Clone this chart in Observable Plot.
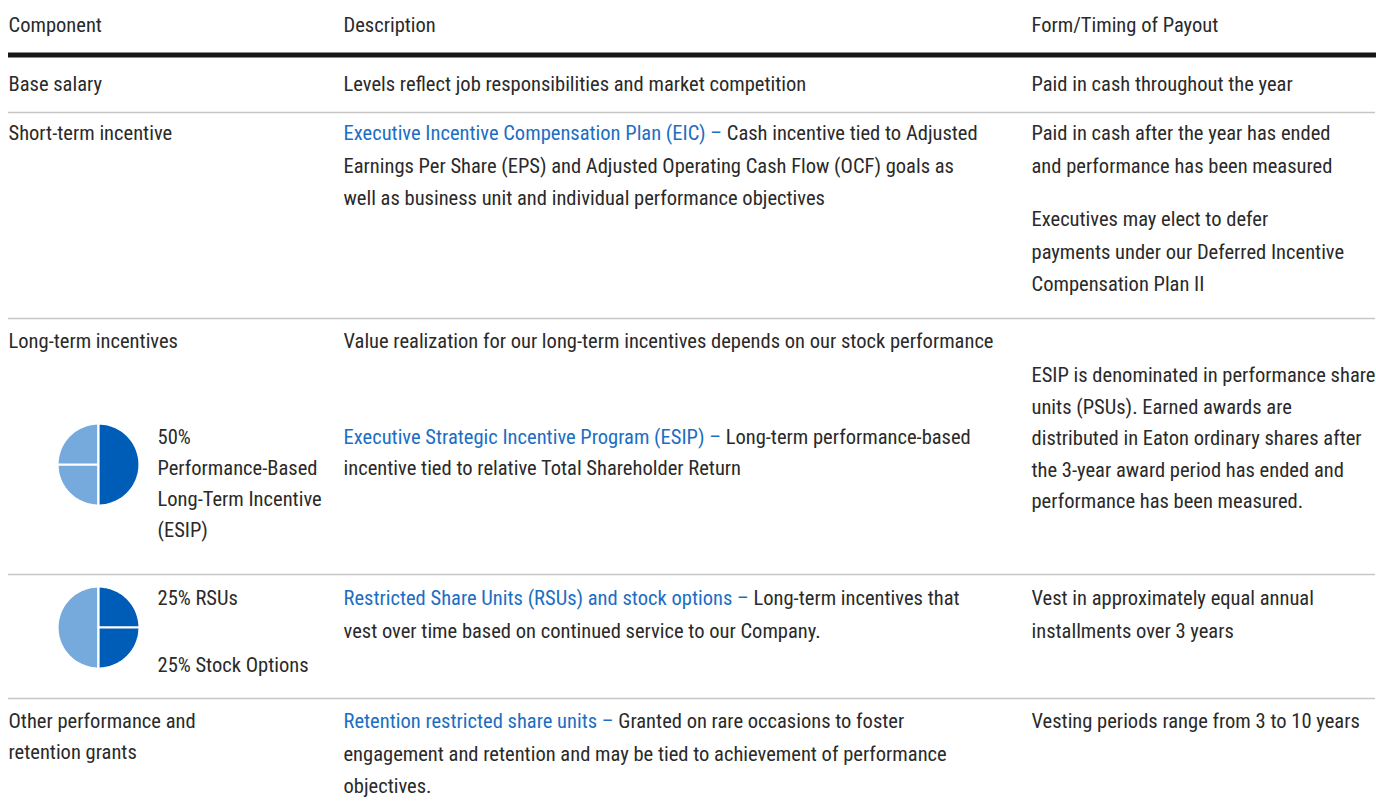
<!DOCTYPE html>
<html><head><meta charset="utf-8">
<script src="https://cdn.jsdelivr.net/npm/d3@7"></script>
<script src="https://cdn.jsdelivr.net/npm/@observablehq/plot@0.6"></script>
<style>html,body{margin:0;padding:0;background:#fff;} svg{display:block} svg text{font-stretch:semi-condensed}</style>
</head><body><div id="chart"></div>
<script>
// ---------- data ----------
const headers = ["Component", "Description", "Form/Timing of Payout"];
const components = ["Base salary", "Short-term incentive", "Long-term incentives", "Other performance and\nretention grants"];
const descLeads = ["", "Executive Incentive Compensation Plan (EIC) –", "", "Executive Strategic Incentive Program (ESIP) –", "Restricted Share Units (RSUs) and stock options –", "Retention restricted share units –"];
const descBodies = [
  "Levels reflect job responsibilities and market competition",
  "Cash incentive tied to Adjusted\nEarnings Per Share (EPS) and Adjusted Operating Cash Flow (OCF) goals as\nwell as business unit and individual performance objectives",
  "Value realization for our long-term incentives depends on our stock performance",
  "Long-term performance-based\nincentive tied to relative Total Shareholder Return",
  "Long-term incentives that\nvest over time based on continued service to our Company.",
  "Granted on rare occasions to foster\nengagement and retention and may be tied to achievement of performance\nobjectives."
];
const payouts = [
  "Paid in cash throughout the year",
  "Paid in cash after the year has ended\nand performance has been measured",
  "Executives may elect to defer\npayments under our Deferred Incentive\nCompensation Plan II",
  "ESIP is denominated in performance share\nunits (PSUs). Earned awards are\ndistributed in Eaton ordinary shares after\nthe 3-year award period has ended and\nperformance has been measured.",
  "Vest in approximately equal annual\ninstallments over 3 years",
  "Vesting periods range from 3 to 10 years"
];
const pieLabels = ["50%\nPerformance-Based\nLong-Term Incentive\n(ESIP)", "25% RSUs", "25% Stock Options"];
const awardNames = ["ESIP", "RSUs", "Stock Options"];
const awardShares = [50, 25, 25];
const pieOrders = [["ESIP", "Stock Options", "RSUs"], ["RSUs", "Stock Options", "ESIP"]];
const pieHighlights = [["ESIP"], ["RSUs", "Stock Options"]];

// ---------- layout & style ----------
const W = 1376, H = 812;
const FONT = 'Roboto, "Liberation Sans", sans-serif';
const SIZE = 20.5;
const TEXT = "#2a2a2a", BLUE = "#1c6ec3", DARK = "#005db7", LIGHT = "#76aadd", SEP = "#c6c6c6";
const colX = [8, 343, 1031];
const headerY = 25;
const thickY = 54.5;
const sepY = [112, 318, 574, 698];
const compY = [84, 133, 341, 721], compLH = 31;
const descY = [84, 133, 341, 437, 598, 721], descLH = [32.5, 32.5, 32.5, 30.5, 33, 32.5];
const payY = [84, 133, 219, 375, 598, 721], payLH = [32, 32.5, 32.5, 31.5, 33, 32];
const pieCenters = [[98, 464], [98, 627]], pieR = 41;
const pieLabelX = 157, pieLabelY = [437, 598, 665], pieLabelLH = 31;
// condensed look: horizontal squeeze calibrated on the long-term description line
const CALIB_TARGET = 650;

// ---------- build ----------
const ctx = document.createElement("canvas").getContext("2d");
ctx.font = `${SIZE}px ${FONT}`;
try { ctx.fontStretch = "semi-condensed"; } catch (e) {}
const rawMeasure = s => ctx.measureText(s).width;
const SQUEEZE = CALIB_TARGET / rawMeasure(descBodies[2]);
const measure = s => rawMeasure(s) * SQUEEZE;

const black = [], blue = [];
headers.forEach((h, i) => black.push({x: colX[i], y: headerY, t: h}));
components.forEach((c, i) => c.split("\n").forEach((l, j) => black.push({x: colX[0], y: compY[i] + j * compLH, t: l})));
descBodies.forEach((b, i) => {
  const lead = descLeads[i];
  let offset = 0;
  if (lead) { blue.push({x: colX[1], y: descY[i], t: lead}); offset = measure(lead + " "); }
  b.split("\n").forEach((l, j) => black.push({x: colX[1] + (j === 0 ? offset : 0), y: descY[i] + j * descLH[i], t: l}));
});
payouts.forEach((p, i) => p.split("\n").forEach((l, j) => black.push({x: colX[2], y: payY[i] + j * payLH[i], t: l})));
pieLabels.forEach((p, i) => p.split("\n").forEach((l, j) => black.push({x: pieLabelX, y: pieLabelY[i] + j * pieLabelLH, t: l})));

// pie slices as closed polygons
const shareOf = Object.fromEntries(awardNames.map((n, i) => [n, awardShares[i]]));
const slices = [];
pieOrders.forEach((order, p) => {
  const arcs = d3.pie().sort(null).value(n => shareOf[n])(order);
  const [cx, cy] = pieCenters[p];
  arcs.forEach(a => {
    const id = `${p}-${a.data}`;
    const dark = pieHighlights[p].includes(a.data);
    slices.push({id, dark, x: cx, y: cy});
    const N = 48;
    for (let k = 0; k <= N; k++) {
      const ang = a.startAngle + (a.endAngle - a.startAngle) * k / N;
      slices.push({id, dark, x: cx + pieR * Math.sin(ang), y: cy - pieR * Math.cos(ang)});
    }
  });
});

const chart = Plot.plot({
  width: W, height: H,
  margin: 0,
  x: {type: "linear", domain: [0, W], range: [0, W], axis: null},
  y: {type: "linear", domain: [0, H], range: [0, H], axis: null},
  style: {fontFamily: FONT, background: "#fff"},
  marks: [
    Plot.ruleY([thickY], {x1: colX[0], x2: W, stroke: "#161616", strokeWidth: 5}),
    Plot.ruleY(sepY, {x1: colX[0], x2: W - 1, stroke: SEP, strokeWidth: 1.5}),
    Plot.line(slices.filter(d => !d.dark), {x: "x", y: "y", z: "id", fill: LIGHT, stroke: "#fff", strokeWidth: 2.2, curve: "linear-closed"}),
    Plot.line(slices.filter(d => d.dark), {x: "x", y: "y", z: "id", fill: DARK, stroke: "#fff", strokeWidth: 2.2, curve: "linear-closed"}),
    Plot.text(black, {x: "x", y: "y", text: "t", fill: TEXT, textAnchor: "start", lineAnchor: "middle", fontSize: SIZE, fontFamily: FONT}),
    Plot.text(blue, {x: "x", y: "y", text: "t", fill: BLUE, textAnchor: "start", lineAnchor: "middle", fontSize: SIZE, fontFamily: FONT})
  ]
});
// apply the condensed width to every text line
chart.querySelectorAll("text").forEach(el => {
  const s = el.textContent;
  if (!s) return;
  el.setAttribute("textLength", measure(s).toFixed(2));
  el.setAttribute("lengthAdjust", "spacingAndGlyphs");
});
document.getElementById("chart").appendChild(chart);
</script>
</body></html>
